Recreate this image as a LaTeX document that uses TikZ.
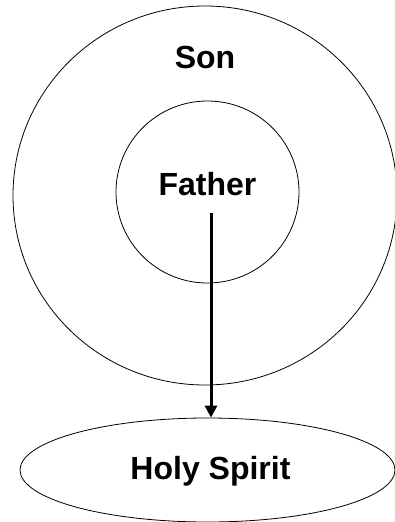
\documentclass[tikz,border=0pt]{standalone}
\usepackage{fontspec}
\setmainfont{Liberation Sans}
\usetikzlibrary{shapes.geometric,arrows.meta}
\begin{document}
\begin{tikzpicture}[x=1pt,y=-1pt,
  ring/.style={draw=black,line width=0.8pt,ellipse,inner sep=0pt},
  lbl/.style={font=\bfseries\fontsize{32}{38}\selectfont,anchor=base,inner sep=0pt},
  flow/.style={line width=3pt,-{Triangle[width=12pt,length=12pt]}}]
\useasboundingbox (0,0) rectangle (395,522);
\node[ring,minimum width=384pt,minimum height=379pt] (son) at (205,195.5) {};
\node[ring,minimum width=183pt,minimum height=182pt] (father) at (207.5,192) {};
\node[ring,minimum width=375pt,minimum height=104pt] (spirit) at (207.5,470) {};
\node[lbl] (sonlbl) at (205,68) {Son};
\node[lbl] (fatherlbl) at (207.5,195) {Father};
\node[lbl] (spiritlbl) at (210.5,479) {Holy Spirit};
\coordinate (start) at (211,213);
\draw[flow] (start) -- (start |- spirit.north);
\end{tikzpicture}
\end{document}
